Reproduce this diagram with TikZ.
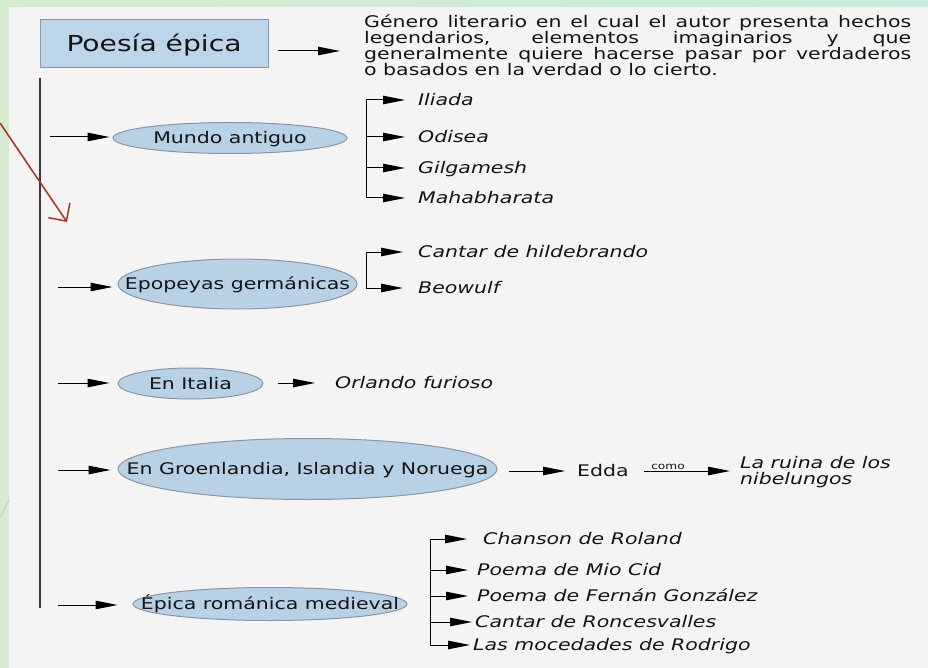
\documentclass[tikz,border=0pt]{standalone}
\usepackage{fontspec}
\setmainfont{DejaVu Sans}[FakeStretch=1.28]
\usetikzlibrary{arrows.meta,shapes.geometric}
\definecolor{panelc}{HTML}{F4F4F4}
\definecolor{greenl}{HTML}{D6EBCF}
\definecolor{greenr}{HTML}{C3ECDA}
\definecolor{decoc}{HTML}{C2D8BC}
\definecolor{boxfill}{HTML}{BDD5E9}
\definecolor{elfill}{HTML}{B9D1E5}
\definecolor{edgec}{HTML}{8797A8}
\definecolor{spinec}{HTML}{3C3C3C}
\definecolor{redc}{HTML}{A8321E}
\definecolor{inkc}{HTML}{141414}
\newcommand{\myfs}[1]{\fontsize{#1}{#1}\selectfont}
\begin{document}
\begin{tikzpicture}[x=1pt,y=-1pt,
  arr/.style={draw=black, line width=1pt, -{Triangle[length=22pt,width=8.5pt]}},
  brk/.style={draw=black, line width=1pt},
  mainbox/.style={draw=edgec, fill=boxfill, line width=1pt, minimum width=228pt, minimum height=48pt, inner sep=0pt, font=\myfs{22}, text=inkc, text height=16pt, text depth=0pt},
  ell/.style={ellipse, draw=edgec, fill=elfill, line width=1pt, inner sep=0pt},
  elltext/.style={font=\myfs{16}, text=inkc, inner sep=0pt, text height=11.7pt, text depth=0pt},
  item/.style={anchor=west, inner sep=0pt, font=\myfs{16}\itshape, text=inkc, text height=11.7pt, text depth=0pt},
]
\useasboundingbox (0,0) rectangle (928,668);
\shade[left color=greenl, right color=greenr] (0,0) rectangle (928,668);
\fill[panelc] (9,7) rectangle (928,668);
\draw[decoc, line width=1pt] (0,518) -- (9,500);

% title and definition
\node[mainbox] (pe) at (154,44) {Poesía épica};
\node[anchor=west, inner sep=0pt, text=inkc] (def) at (364,45) {\parbox{547pt}{\myfs{16}%
\makebox[547pt][s]{Género literario en el cual el autor presenta hechos}\\
\makebox[547pt][s]{legendarios, elementos imaginarios y que}\\
\makebox[547pt][s]{generalmente quiere hacerse pasar por verdaderos}\\
o basados en la verdad o lo cierto.}};
\draw[arr] ([xshift=9pt,yshift=-7pt]pe.east) -- ([xshift=-24pt,yshift=-7pt]pe.east -| def.west);

% spine
\coordinate (vtop) at (40,78);
\coordinate (vbot) at (40,608);
\draw[spinec, line width=1.6pt] (vtop) -- (vbot);

% red arrow
\coordinate (r0) at (0,123);
\coordinate (r1) at (67,222);
\draw[redc, line width=1.5pt, -{Straight Barb[length=13pt,width=26pt]}] (r0) -- (r1);

% ellipses
\node[ell, minimum width=234pt, minimum height=31pt, label={[elltext]center:Mundo antiguo}] (e1) at (230,138) {};
\node[ell, minimum width=239pt, minimum height=50pt, label={[elltext]center:Epopeyas germánicas}] (e2) at (237.5,284) {};
\node[ell, minimum width=145pt, minimum height=31pt, label={[elltext]center:En Italia}] (e3) at (190.5,383.5) {};
\node[ell, minimum width=379pt, minimum height=61pt, label={[elltext]center:En Groenlandia, Islandia y Noruega}] (e4) at (307.5,469) {};
\node[ell, minimum width=274pt, minimum height=33pt, label={[elltext]center:Épica románica medieval}] (e5) at (270,604) {};

% left arrows
\coordinate (l1) at (50,137);
\coordinate (l2) at (58,287);
\coordinate (l3) at (58,383);
\coordinate (l4) at (58,470);
\coordinate (l5) at (58,605);
\draw[arr, shorten >=3pt] (l1) -- (l1 -| e1.west);
\draw[arr, shorten >=5pt] (l2) -- (l2 -| e2.west);
\draw[arr, shorten >=8pt] (l3) -- (l3 -| e3.west);
\draw[arr, shorten >=7pt] (l4) -- (l4 -| e4.west);
\draw[arr, shorten >=15pt] (l5) -- (l5 -| e5.west);

% Mundo antiguo
\node[item] (i11) at (418,100) {Iliada};
\node[item] (i12) at (418,137) {Odisea};
\node[item] (i13) at (418,168) {Gilgamesh};
\node[item] (i14) at (418,198) {Mahabharata};
\coordinate (b1) at (366,0);
\draw[brk] (b1 |- i11) -- (b1 |- i14);
\foreach \n in {i11,i12,i13,i14}
  \draw[arr] (b1 |- \n) -- ([xshift=-13pt]\n.west);

% Epopeyas germánicas
\node[item] (i21) at (418,252) {Cantar de hildebrando};
\node[item] (i22) at (418,288) {Beowulf};
\coordinate (b2) at (366,0);
\draw[brk] (b2 |- i21) -- (b2 |- i22);
\foreach \n in {i21,i22}
  \draw[arr] (b2 |- \n) -- ([xshift=-15pt]\n.west);

% En Italia
\node[item] (i31) at (335,383) {Orlando furioso};
\draw[arr] ([xshift=14pt]e3.east |- i31.west) -- ([xshift=-20pt]i31.west);

% Groenlandia
\node[elltext, anchor=west] (edda) at (577,471) {Edda};
\node[anchor=west, inner sep=0pt, align=left, font=\myfs{16}\itshape, text=inkc] (ruina) at (740,472) {La ruina de los\\nibelungos};
\draw[arr] ([xshift=11pt]e4.east |- edda.west) -- ([xshift=-12pt]edda.west);
\draw[arr] ([xshift=15pt]edda.east) -- node[pos=0.28, above, inner sep=1pt, font=\myfs{9.5}, text=inkc] {como} ([xshift=-10pt]ruina.west |- edda.west);

% Épica románica medieval
\node[item] (i51) at (483,539) {Chanson de Roland};
\node[item] (i52) at (477,570) {Poema de Mio Cid};
\node[item] (i53) at (477,596) {Poema de Fernán González};
\node[item] (i54) at (475,622) {Cantar de Roncesvalles};
\node[item] (i55) at (473,645) {Las mocedades de Rodrigo};
\coordinate (b5) at (430,0);
\draw[brk] (b5 |- i51) -- (b5 |- i55);
\draw[arr] (b5 |- i51) -- ([xshift=-16pt]i51.west);
\draw[arr] (b5 |- i52) -- ([xshift=-9pt]i52.west);
\draw[arr] (b5 |- i53) -- ([xshift=-9pt]i53.west);
\draw[arr] (b5 |- i54) -- ([xshift=-3pt]i54.west);
\draw[arr] (b5 |- i55) -- ([xshift=-3pt]i55.west);
\end{tikzpicture}
\end{document}
